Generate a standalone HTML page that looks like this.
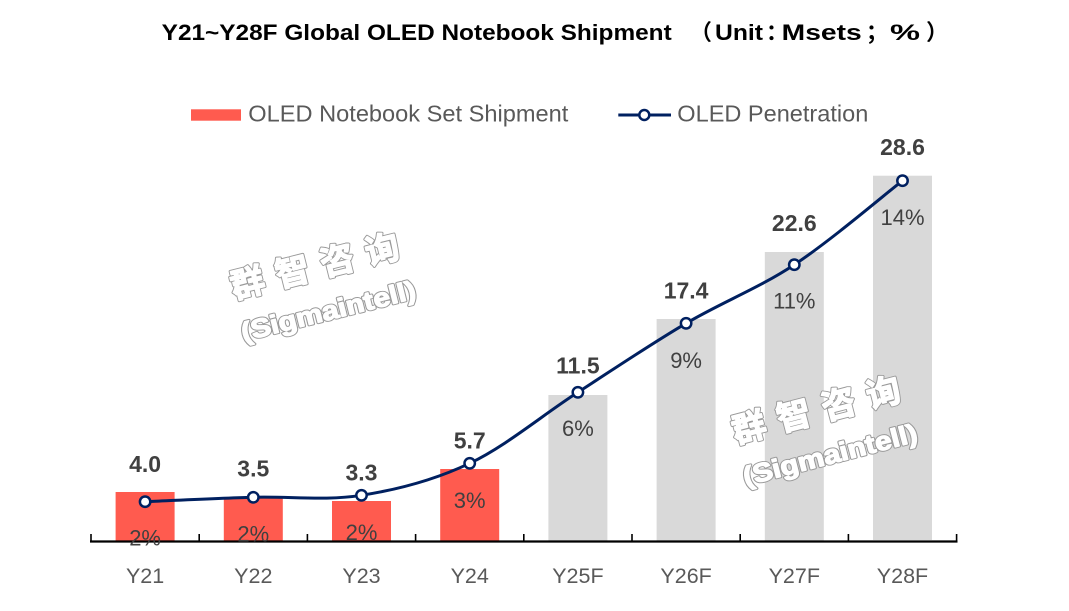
<!DOCTYPE html>
<html>
<head>
<meta charset="utf-8">
<style>
html,body{margin:0;padding:0;background:#fff;}
svg{display:block;}
text{font-family:"Liberation Sans","Noto Sans CJK SC",sans-serif;}
.cjk{font-family:"Liberation Sans","Noto Sans CJK SC",sans-serif;}
.val{font-size:23px;font-weight:bold;fill:#404040;text-anchor:middle;}
.pct{font-size:22px;fill:#404040;text-anchor:middle;}
.cat{font-size:21.5px;fill:#595959;text-anchor:middle;}
.wmo{fill:#9a9a9a;stroke:#9a9a9a;stroke-width:3.2;stroke-linejoin:round;}
.wmi{fill:#fff;stroke:#fff;stroke-width:1.3;stroke-linejoin:round;}
</style>
</head>
<body>
<svg width="1069" height="611" viewBox="0 0 1069 611" xmlns="http://www.w3.org/2000/svg">
<defs>
<g id="wmtext">
<text class="cjk" x="-17" y="12.5" font-size="34" font-weight="bold" letter-spacing="12.2">群智咨询</text>
<text x="-18" y="56" font-size="26" font-weight="bold" textLength="179" lengthAdjust="spacingAndGlyphs">(Sigmaintell)</text>
</g>
</defs>
<rect width="1069" height="611" fill="#fff"/>

<!-- Title -->
<text x="161.7" y="40" font-size="22" font-weight="bold" fill="#000" textLength="510" lengthAdjust="spacingAndGlyphs">Y21~Y28F Global OLED Notebook Shipment</text>
<text x="690" y="40" font-size="22" font-weight="bold" fill="#000">（</text>
<text x="715" y="40" font-size="22" font-weight="bold" fill="#000" textLength="48" lengthAdjust="spacingAndGlyphs">Unit</text>
<text x="766" y="40" font-size="22" font-weight="bold" fill="#000">：</text>
<text x="781.7" y="40" font-size="22" font-weight="bold" fill="#000" textLength="80" lengthAdjust="spacingAndGlyphs">Msets</text>
<text x="866" y="40" font-size="22" font-weight="bold" fill="#000">；</text>
<text x="890" y="40" font-size="22" font-weight="bold" fill="#000" textLength="30" lengthAdjust="spacingAndGlyphs">%</text>
<text x="926" y="40" font-size="22" font-weight="bold" fill="#000">）</text>

<!-- Legend -->
<rect x="191" y="109.3" width="50" height="11.4" fill="#FF5B4F"/>
<text x="248.3" y="121.7" font-size="23" fill="#595959" textLength="320" lengthAdjust="spacingAndGlyphs">OLED Notebook Set Shipment</text>
<line x1="618.3" y1="115" x2="671" y2="115" stroke="#002060" stroke-width="3"/>
<circle cx="644.3" cy="115" r="5" fill="#fff" stroke="#002060" stroke-width="2.5"/>
<text x="677.3" y="121.7" font-size="23" fill="#595959" textLength="191" lengthAdjust="spacingAndGlyphs">OLED Penetration</text>

<!-- Bars -->
<rect x="115.6" y="492" width="59" height="49" fill="#FF5B4F"/>
<rect x="223.8" y="497.3" width="59" height="43.7" fill="#FF5B4F"/>
<rect x="332" y="501" width="59" height="40" fill="#FF5B4F"/>
<rect x="440.2" y="469" width="59" height="72" fill="#FF5B4F"/>
<rect x="548.4" y="395" width="59" height="146" fill="#D9D9D9"/>
<rect x="656.6" y="319" width="59" height="222" fill="#D9D9D9"/>
<rect x="764.8" y="252" width="59" height="289" fill="#D9D9D9"/>
<rect x="873" y="175.7" width="59" height="364.3" fill="#D9D9D9"/>

<!-- Axis -->
<line x1="90" y1="541.5" x2="957.5" y2="541.5" stroke="#000" stroke-width="2.2"/>
<g stroke="#000" stroke-width="1.6">
<line x1="91" y1="534" x2="91" y2="541"/>
<line x1="199.2" y1="534" x2="199.2" y2="541"/>
<line x1="307.4" y1="534" x2="307.4" y2="541"/>
<line x1="415.6" y1="534" x2="415.6" y2="541"/>
<line x1="523.8" y1="534" x2="523.8" y2="541"/>
<line x1="632" y1="534" x2="632" y2="541"/>
<line x1="740.2" y1="534" x2="740.2" y2="541"/>
<line x1="848.4" y1="534" x2="848.4" y2="541"/>
<line x1="956.6" y1="534" x2="956.6" y2="541"/>
</g>

<!-- Category labels -->
<text class="cat" x="145.1" y="583">Y21</text>
<text class="cat" x="253.3" y="583">Y22</text>
<text class="cat" x="361.5" y="583">Y23</text>
<text class="cat" x="469.7" y="583">Y24</text>
<text class="cat" x="577.9" y="583">Y25F</text>
<text class="cat" x="686.1" y="583">Y26F</text>
<text class="cat" x="794.3" y="583">Y27F</text>
<text class="cat" x="902.5" y="583">Y28F</text>

<!-- Value labels -->
<text class="val" x="145.1" y="472">4.0</text>
<text class="val" x="253.3" y="476.5">3.5</text>
<text class="val" x="361.5" y="480.7">3.3</text>
<text class="val" x="469.7" y="448.5">5.7</text>
<text class="val" x="577.9" y="373.3">11.5</text>
<text class="val" x="686.1" y="298.3">17.4</text>
<text class="val" x="794.3" y="231">22.6</text>
<text class="val" x="902.5" y="155">28.6</text>

<!-- Percent labels -->
<text class="pct" x="145.1" y="545.7">2%</text>
<text class="pct" x="253.3" y="541.5">2%</text>
<text class="pct" x="361.5" y="540">2%</text>
<text class="pct" x="469.7" y="508">3%</text>
<text class="pct" x="577.9" y="436">6%</text>
<text class="pct" x="686.1" y="368">9%</text>
<text class="pct" x="794.3" y="308.5">11%</text>
<text class="pct" x="902.5" y="225">14%</text>

<!-- Line -->
<path d="M145.1,501.7 C163.1,500.97 217.2,498.37 253.3,497.3 C289.4,496.23 325.4,500.97 361.5,495.3 C397.6,489.63 433.6,480.47 469.7,463.3 C505.8,446.13 541.8,415.63 577.9,392.3 C614,368.97 650,344.57 686.1,323.3 C722.2,302.03 758.2,288.47 794.3,264.7 C830.4,240.93 884.5,194.7 902.5,180.7" fill="none" stroke="#002060" stroke-width="3"/>
<g fill="#fff" stroke="#002060" stroke-width="2.5">
<circle cx="145.1" cy="501.7" r="5.2"/>
<circle cx="253.3" cy="497.3" r="5.2"/>
<circle cx="361.5" cy="495.3" r="5.2"/>
<circle cx="469.7" cy="463.3" r="5.2"/>
<circle cx="577.9" cy="392.3" r="5.2"/>
<circle cx="686.1" cy="323.3" r="5.2"/>
<circle cx="794.3" cy="264.7" r="5.2"/>
<circle cx="902.5" cy="180.7" r="5.2"/>
</g>

<!-- Watermark 1 -->
<g transform="translate(247.5,282.5) rotate(-14)">
<use href="#wmtext" class="wmo"/>
<use href="#wmtext" class="wmi"/>
</g>
<!-- Watermark 2 -->
<g transform="translate(749,427) rotate(-14.5)">
<use href="#wmtext" class="wmo"/>
<use href="#wmtext" class="wmi"/>
</g>
</svg>
</body>
</html>
